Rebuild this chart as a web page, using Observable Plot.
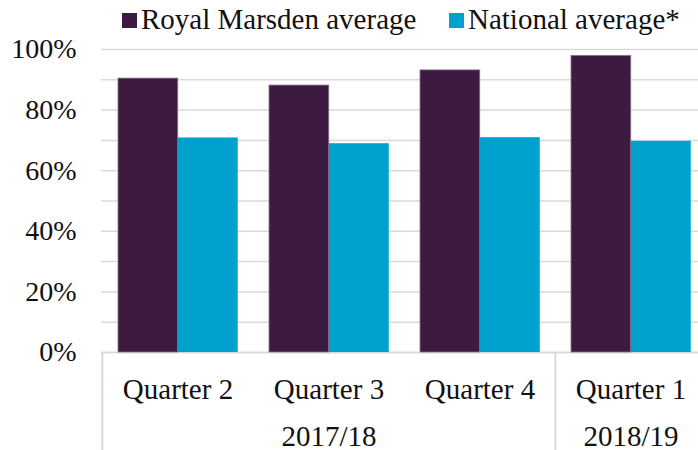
<!DOCTYPE html>
<html>
<head>
<meta charset="utf-8">
<script src="https://cdn.jsdelivr.net/npm/d3@7"></script>
<script src="https://cdn.jsdelivr.net/npm/@observablehq/plot@0.6"></script>
<style>
  html, body { margin: 0; padding: 0; background: #fff; }
  #wrap { width: 698px; height: 450px; overflow: hidden; position: relative; }
  #legend { position: relative; height: 34px; width: 698px; font-family: "Liberation Serif", serif; font-size: 29px; color: #111; }
  #legend .sw { position: absolute; width: 15px; height: 15px; top: 13px; }
  #legend .lb { position: absolute; top: 5px; line-height: 29px; white-space: nowrap; }
</style>
</head>
<body>
<div id="wrap">
  <div id="legend"></div>
  <div id="chart"></div>
</div>
<script>
const quarters = ["Quarter 2", "Quarter 3", "Quarter 4", "Quarter 1"];
const series = ["Royal Marsden average", "National average*"];
const royalMarsden = [0.904, 0.881, 0.931, 0.979];
const nationalAvg = [0.708, 0.689, 0.709, 0.697];
const colors = ["#3d1a40", "#00a2cd"];
const yearLabels = ["2017/18", "2018/19"];
const yearAnchor = ["Quarter 3", "Quarter 1"];
const separators = ["Quarter 2", "Quarter 1"];
const yTicks = [0, 0.2, 0.4, 0.6, 0.8, 1.0];
const gridTicks = [0.1, 0.2, 0.3, 0.4, 0.5, 0.6, 0.7, 0.8, 0.9, 1.0];

const rows = [];
quarters.forEach((q, i) => {
  rows.push({quarter: q, series: series[0], value: royalMarsden[i]});
  rows.push({quarter: q, series: series[1], value: nationalAvg[i]});
});

// Legend
const legend = document.getElementById("legend");
const legendPos = [{sw: 122, lb: 141}, {sw: 449, lb: 468}];
series.forEach((s, i) => {
  const sw = document.createElement("div");
  sw.className = "sw";
  sw.style.left = legendPos[i].sw + "px";
  sw.style.background = colors[i];
  legend.appendChild(sw);
  const lb = document.createElement("div");
  lb.className = "lb";
  lb.style.left = legendPos[i].lb + "px";
  lb.textContent = s;
  legend.appendChild(lb);
});

const bw = 151.25;
const chart = Plot.plot({
  width: 698,
  height: 416,
  marginTop: 15,
  marginBottom: 98,
  marginLeft: 101,
  marginRight: 0,
  style: {fontFamily: "Liberation Serif, serif", color: "#111", background: "#fff", overflow: "hidden"},
  x: {domain: quarters, range: [101, 706], padding: 0, axis: null},
  y: {domain: [0, 1], axis: null},
  color: {domain: series, range: colors},
  marks: [
    Plot.ruleY(gridTicks, {stroke: "#d9d9d9", strokeWidth: 1.5}),
    Plot.ruleY([0], {stroke: "#d9d9d9", strokeWidth: 2}),
    Plot.barY(rows.filter(d => d.series === series[0]), {
      x: "quarter", y: "value", fill: "series",
      insetLeft: 16, insetRight: bw - 76,
      stroke: "#8a7490", strokeWidth: 0.8
    }),
    Plot.barY(rows.filter(d => d.series === series[1]), {
      x: "quarter", y: "value", fill: "series",
      insetLeft: 76, insetRight: bw - 136
    }),
    Plot.axisY(yTicks, {tickFormat: d3.format(".0%"), tickSize: 0, tickPadding: 25, fontSize: 28, fontFamily: "Liberation Serif", fill: "#111", label: null}),
    Plot.ruleX(separators, {x: d => d, y1: 0, y2: 0, dx: -bw / 2, insetBottom: -100, stroke: "#d9d9d9", strokeWidth: 2}),
    Plot.text(quarters, {x: d => d, y: 0, dy: 46, lineAnchor: "bottom", fontSize: 29, fill: "#111"}),
    Plot.text(yearLabels, {x: (d, i) => yearAnchor[i], y: 0, dy: 93, lineAnchor: "bottom", fontSize: 29, fill: "#111"})
  ]
});
document.getElementById("chart").appendChild(chart);
</script>
</body>
</html>
